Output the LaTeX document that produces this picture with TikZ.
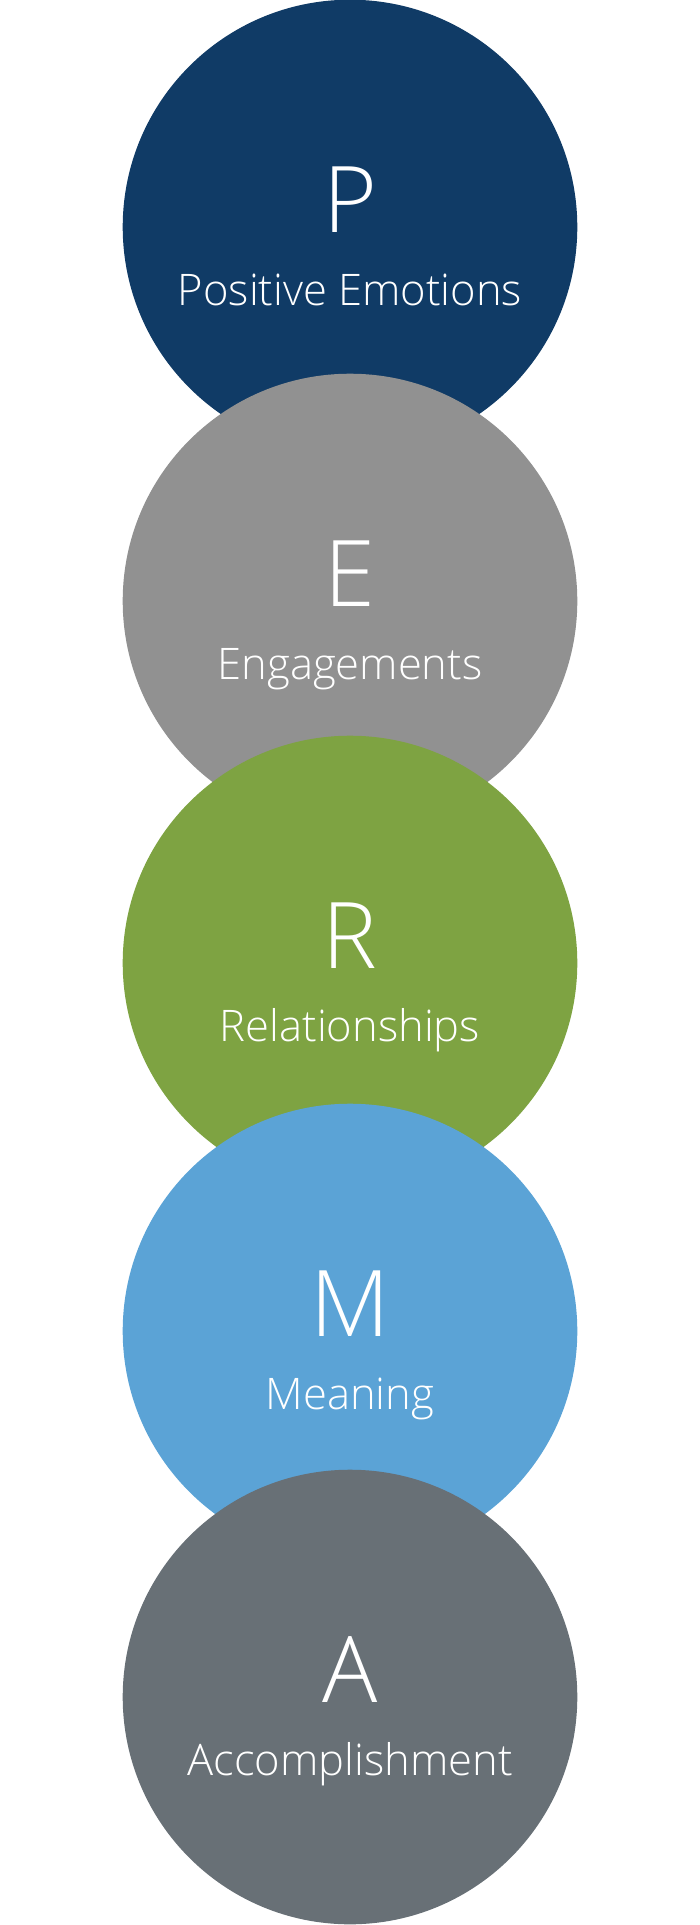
\documentclass[tikz,border=0pt]{standalone}
\usepackage{fontspec}
\IfFontExistsTF{Open Sans Light}{\setmainfont{Open Sans Light}}{\setmainfont{Open Sans}}
\usepackage{tikz}
\usetikzlibrary{positioning}
\definecolor{pnavy}{HTML}{103B66}
\definecolor{egray}{HTML}{919191}
\definecolor{rgreen}{HTML}{7EA342}
\definecolor{mblue}{HTML}{5BA3D6}
\definecolor{aslate}{HTML}{687076}
\tikzset{
  disc/.style={circle, minimum size=454.6pt, inner sep=0pt},
  letter/.style={anchor=base, text=white, inner sep=0pt, font=\fontsize{92}{92}\selectfont},
  caption/.style={anchor=base, text=white, inner sep=0pt, font=\fontsize{43.5}{43.5}\selectfont},
}
\begin{document}
\begin{tikzpicture}[x=1pt, y=-1pt]
  \useasboundingbox (0,0) rectangle (700,1925);
  \node[disc, fill=pnavy] (p) at (350,227) {};
  \node[letter] (pl) at ([yshift=-5pt]p.center) {P};
  \node[caption] (pc) at ([yshift=-78pt]p.center) {Positive Emotions};
  \node[disc, fill=egray] (e) at (350,601) {};
  \node[letter] (el) at ([yshift=-5pt]e.center) {E};
  \node[caption] (ec) at ([yshift=-78pt]e.center) {Engagements};
  \node[disc, fill=rgreen] (r) at (350,963) {};
  \node[letter] (rl) at ([yshift=-5pt]r.center) {R};
  \node[caption] (rc) at ([yshift=-78pt]r.center) {Relationships};
  \node[disc, fill=mblue] (m) at (350,1331) {};
  \node[letter] (ml) at ([yshift=-5pt]m.center) {M};
  \node[caption] (mc) at ([yshift=-78pt]m.center) {Meaning};
  \node[disc, fill=aslate] (a) at (350,1697) {};
  \node[letter] (al) at ([yshift=-5pt]a.center) {A};
  \node[caption] (ac) at ([yshift=-78pt]a.center) {Accomplishment};
\end{tikzpicture}
\end{document}
